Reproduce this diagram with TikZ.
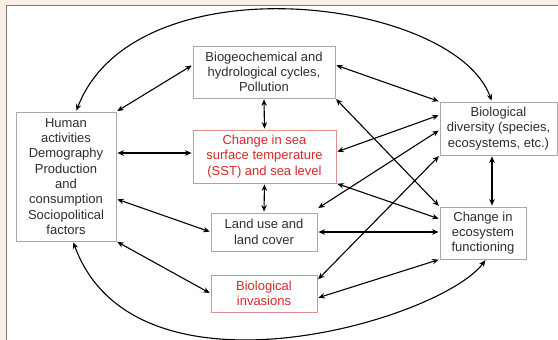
\documentclass[tikz,border=0pt]{standalone}
\usepackage{fontspec}
\setmainfont{Liberation Sans}
\usetikzlibrary{arrows.meta}
\definecolor{peach}{HTML}{FCEEE3}
\definecolor{framegray}{HTML}{7A7A7A}
\definecolor{boxgray}{HTML}{A8A8A8}
\definecolor{textgray}{HTML}{2E2E2E}
\definecolor{textred}{HTML}{D42A2A}
\definecolor{boxred}{HTML}{E28C8C}
\begin{document}
\begin{tikzpicture}[
		x=1pt, y=-1pt,
		>={Stealth[length=6.5pt,width=5.5pt]},
		every node/.style={font=\fontsize{13}{15.3}\selectfont, align=center, inner sep=0pt},
		box/.style={draw=boxgray, line width=0.8pt, fill=white, text=textgray},
		redbox/.style={box, draw=boxred, text=textred},
		link/.style={<->, line width=1.1pt, shorten <=1pt, shorten >=1pt},
		biglink/.style={link, line width=2.4pt}
	]

		% Frame
		\useasboundingbox (0,0) rectangle (558,340);
		\fill[peach] (0,0) rectangle (558,340);
		\draw[framegray, line width=1.6pt, fill=white] (6.5,5.5) rectangle (566,350);

		% Boxes
		\node[box, minimum width=100pt, minimum height=129pt] (human) at (66,176.5)
			{Human\\activities\\Demography\\Production\\and\\consumption\\Sociopolitical\\factors};
		\node[box, minimum width=142pt, minimum height=52pt] (biogeo) at (264,72)
			{Biogeochemical and\\hydrological cycles,\\Pollution};
		\node[redbox, minimum width=143pt, minimum height=53pt] (sst) at (264.5,156.5)
			{Change in sea\\surface temperature\\(SST) and sea level};
		\node[box, minimum width=106pt, minimum height=38pt] (landuse) at (264,232)
			{Land use and\\land cover};
		\node[redbox, minimum width=106pt, minimum height=37pt] (bioinv) at (264,293.5)
			{Biological\\invasions};
		\node[box, minimum width=117pt, minimum height=53pt] (biodiv) at (498.5,128.5)
			{Biological\\diversity (species,\\ecosystems, etc.)};
		\node[box, minimum width=86pt, minimum height=52pt] (changeeco) at (483,233)
			{Change in\\ecosystem\\functioning};

		% Links from human activities
		\draw[link] (human.north east) -- ([yshift=7pt]biogeo.west);
		\draw[link] ([yshift=23.5pt]human.east) -- ([yshift=3.5pt]sst.west);
		\draw[link] ([yshift=-22.5pt]human.east) -- (landuse.west);
		\draw[link] (human.south east) -- (bioinv.west);
		\draw[link] ([xshift=10pt]human.north) .. controls (135,-41) and (454,-3) .. ([xshift=-6.5pt]biodiv.north);
		\draw[link] ([xshift=7pt]human.south) .. controls (135,411) and (441,320) .. ([xshift=3pt]changeeco.south);

		% Middle column
		\draw[link] (biogeo.south) -- (sst.north);
		\draw[link] (sst.south) -- (landuse.north);

		% Links to the right column
		\draw[link] ([yshift=7pt]biogeo.east) -- (biodiv.north west);
		\draw[link] (biogeo.south east) -- (changeeco.north west);
		\draw[link] ([yshift=4.5pt]sst.east) -- ([yshift=13.5pt]biodiv.west);
		\draw[link] (sst.south east) -- ([yshift=14pt]changeeco.west);
		\draw[link] ([yshift=4pt]landuse.north east) -- ([yshift=-1.5pt]biodiv.west);
		\draw[link] ([yshift=13.5pt]bioinv.east) -- (biodiv.south west);
		\draw[link] (landuse.east) -- (landuse.east -| changeeco.west);
		\draw[link] ([yshift=-4.5pt]bioinv.east) -- (changeeco.south west);
		\draw[biglink] ([xshift=-6.5pt]biodiv.south) -- ([xshift=-6.5pt]biodiv.south |- changeeco.north);
	\end{tikzpicture}
\end{document}
